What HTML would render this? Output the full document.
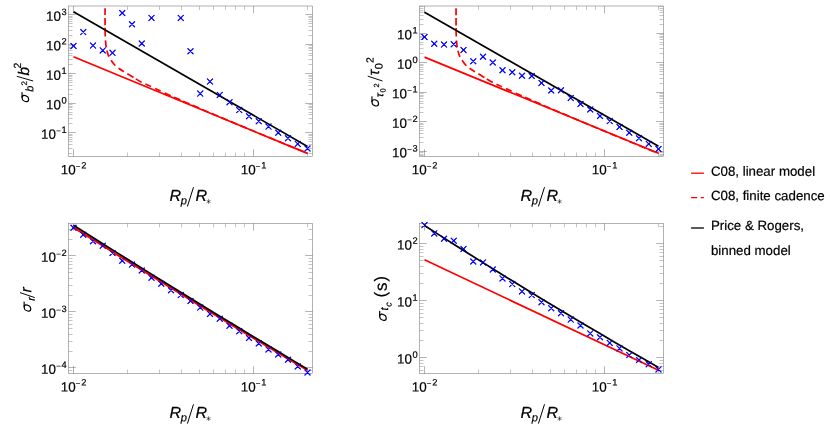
<!DOCTYPE html>
<html><head><meta charset="utf-8"><title>plot</title>
<style>
html,body{margin:0;padding:0;background:#fff;}
svg{display:block;will-change:transform;font-family:"Liberation Sans",sans-serif;}
text{fill:#000;stroke:#000;stroke-width:0.2px;}
</style></head><body>
<svg width="830" height="426" viewBox="0 0 830 426">
<rect width="830" height="426" fill="#fff"/>
<rect x="68.5" y="6" width="244" height="150.5" fill="none" stroke="#666" stroke-width="0.5"/>
<path d="M73.5 156.5v-7.3M73.5 6v7.3M253.5 156.5v-7.3M253.5 6v7.3" stroke="#686868" stroke-width="0.5" fill="none"/>
<path d="M127.5 156.5v-4M127.5 6v4M159.5 156.5v-4M159.5 6v4M181.5 156.5v-4M181.5 6v4M199.5 156.5v-4M199.5 6v4M213.5 156.5v-4M213.5 6v4M225.5 156.5v-4M225.5 6v4M235.5 156.5v-4M235.5 6v4M244.5 156.5v-4M244.5 6v4M307.5 156.5v-4M307.5 6v4" stroke="#8a8a8a" stroke-width="0.5" fill="none"/>
<path d="M68.5 132.5h7.3M312.5 132.5h-7.3M68.5 103.5h7.3M312.5 103.5h-7.3M68.5 73.5h7.3M312.5 73.5h-7.3M68.5 44.5h7.3M312.5 44.5h-7.3M68.5 14.5h7.3M312.5 14.5h-7.3" stroke="#686868" stroke-width="0.5" fill="none"/>
<path d="M68.5 153.5h4M312.5 153.5h-4M68.5 148.5h4M312.5 148.5h-4M68.5 144.5h4M312.5 144.5h-4M68.5 141.5h4M312.5 141.5h-4M68.5 139.5h4M312.5 139.5h-4M68.5 137.5h4M312.5 137.5h-4M68.5 135.5h4M312.5 135.5h-4M68.5 134.5h4M312.5 134.5h-4M68.5 123.5h4M312.5 123.5h-4M68.5 118.5h4M312.5 118.5h-4M68.5 114.5h4M312.5 114.5h-4M68.5 112.5h4M312.5 112.5h-4M68.5 109.5h4M312.5 109.5h-4M68.5 107.5h4M312.5 107.5h-4M68.5 106.5h4M312.5 106.5h-4M68.5 104.5h4M312.5 104.5h-4M68.5 94.5h4M312.5 94.5h-4M68.5 89.5h4M312.5 89.5h-4M68.5 85.5h4M312.5 85.5h-4M68.5 82.5h4M312.5 82.5h-4M68.5 80.5h4M312.5 80.5h-4M68.5 78.5h4M312.5 78.5h-4M68.5 76.5h4M312.5 76.5h-4M68.5 75.5h4M312.5 75.5h-4M68.5 64.5h4M312.5 64.5h-4M68.5 59.5h4M312.5 59.5h-4M68.5 55.5h4M312.5 55.5h-4M68.5 53.5h4M312.5 53.5h-4M68.5 50.5h4M312.5 50.5h-4M68.5 48.5h4M312.5 48.5h-4M68.5 47.5h4M312.5 47.5h-4M68.5 45.5h4M312.5 45.5h-4M68.5 35.5h4M312.5 35.5h-4M68.5 30.5h4M312.5 30.5h-4M68.5 26.5h4M312.5 26.5h-4M68.5 23.5h4M312.5 23.5h-4M68.5 21.5h4M312.5 21.5h-4M68.5 19.5h4M312.5 19.5h-4M68.5 17.5h4M312.5 17.5h-4M68.5 16.5h4M312.5 16.5h-4" stroke="#8a8a8a" stroke-width="0.5" fill="none"/>
<text x="66.6" y="20.75" transform="rotate(0.05 66.6 20.75)" text-anchor="end" font-size="13.4">10<tspan font-size="9.3" dy="-5.8" dx="0.4">3</tspan></text>
<text x="66.6" y="50.25" transform="rotate(0.05 66.6 50.25)" text-anchor="end" font-size="13.4">10<tspan font-size="9.3" dy="-5.8" dx="0.4">2</tspan></text>
<text x="66.6" y="79.75" transform="rotate(0.05 66.6 79.75)" text-anchor="end" font-size="13.4">10<tspan font-size="9.3" dy="-5.8" dx="0.4">1</tspan></text>
<text x="66.6" y="109.25" transform="rotate(0.05 66.6 109.25)" text-anchor="end" font-size="13.4">10<tspan font-size="9.3" dy="-5.8" dx="0.4">0</tspan></text>
<text x="66.6" y="138.75" transform="rotate(0.05 66.6 138.75)" text-anchor="end" font-size="13.4">10<tspan font-size="8.6" dy="-4.95" stroke="none" fill="#222">−</tspan><tspan font-size="9.3" dy="-0.85" dx="0.5">1</tspan></text>
<text x="73.5" y="174.2" transform="rotate(0.05 73.5 174.2)" text-anchor="middle" font-size="13.4">10<tspan font-size="8.6" dy="-4.95" stroke="none" fill="#222">−</tspan><tspan font-size="9.3" dy="-0.85" dx="0.5">2</tspan></text>
<text x="253.5" y="174.2" transform="rotate(0.05 253.5 174.2)" text-anchor="middle" font-size="13.4">10<tspan font-size="8.6" dy="-4.95" stroke="none" fill="#222">−</tspan><tspan font-size="9.3" dy="-0.85" dx="0.5">1</tspan></text>
<g font-style="italic"><text x="169.4" y="200.9" transform="rotate(0.05 169.4 200.9)" font-size="16.1">R</text><text x="180.8" y="204.2" transform="rotate(0.05 180.8 204.2)" font-size="11.2">p</text><path d="M187.4 206.5L193.5 187.2" stroke="#000" stroke-width="1.0" fill="none"/><text x="195.5" y="200.9" transform="rotate(0.05 195.5 200.9)" font-size="16.1">R</text><path transform="translate(208.55 201.5)" d="M0 -2.3V2.3M-2 -1.15L2 1.15M-2 1.15L2 -1.15" stroke="#222" stroke-width="0.62" fill="none"/></g>
<rect x="419.5" y="6" width="244" height="150.5" fill="none" stroke="#666" stroke-width="0.5"/>
<path d="M424.5 156.5v-7.3M424.5 6v7.3M604.5 156.5v-7.3M604.5 6v7.3" stroke="#686868" stroke-width="0.5" fill="none"/>
<path d="M478.5 156.5v-4M478.5 6v4M510.5 156.5v-4M510.5 6v4M532.5 156.5v-4M532.5 6v4M550.5 156.5v-4M550.5 6v4M564.5 156.5v-4M564.5 6v4M576.5 156.5v-4M576.5 6v4M586.5 156.5v-4M586.5 6v4M595.5 156.5v-4M595.5 6v4M658.5 156.5v-4M658.5 6v4" stroke="#8a8a8a" stroke-width="0.5" fill="none"/>
<path d="M419.5 151.5h7.3M663.5 151.5h-7.3M419.5 121.5h7.3M663.5 121.5h-7.3M419.5 92.5h7.3M663.5 92.5h-7.3M419.5 62.5h7.3M663.5 62.5h-7.3M419.5 33.5h7.3M663.5 33.5h-7.3" stroke="#686868" stroke-width="0.5" fill="none"/>
<path d="M419.5 155.5h4M663.5 155.5h-4M419.5 154.5h4M663.5 154.5h-4M419.5 152.5h4M663.5 152.5h-4M419.5 142.5h4M663.5 142.5h-4M419.5 137.5h4M663.5 137.5h-4M419.5 133.5h4M663.5 133.5h-4M419.5 130.5h4M663.5 130.5h-4M419.5 128.5h4M663.5 128.5h-4M419.5 126.5h4M663.5 126.5h-4M419.5 124.5h4M663.5 124.5h-4M419.5 123.5h4M663.5 123.5h-4M419.5 112.5h4M663.5 112.5h-4M419.5 107.5h4M663.5 107.5h-4M419.5 103.5h4M663.5 103.5h-4M419.5 101.5h4M663.5 101.5h-4M419.5 98.5h4M663.5 98.5h-4M419.5 96.5h4M663.5 96.5h-4M419.5 95.5h4M663.5 95.5h-4M419.5 93.5h4M663.5 93.5h-4M419.5 83.5h4M663.5 83.5h-4M419.5 78.5h4M663.5 78.5h-4M419.5 74.5h4M663.5 74.5h-4M419.5 71.5h4M663.5 71.5h-4M419.5 69.5h4M663.5 69.5h-4M419.5 67.5h4M663.5 67.5h-4M419.5 65.5h4M663.5 65.5h-4M419.5 64.5h4M663.5 64.5h-4M419.5 53.5h4M663.5 53.5h-4M419.5 48.5h4M663.5 48.5h-4M419.5 44.5h4M663.5 44.5h-4M419.5 42.5h4M663.5 42.5h-4M419.5 39.5h4M663.5 39.5h-4M419.5 37.5h4M663.5 37.5h-4M419.5 36.5h4M663.5 36.5h-4M419.5 34.5h4M663.5 34.5h-4M419.5 24.5h4M663.5 24.5h-4M419.5 19.5h4M663.5 19.5h-4M419.5 15.5h4M663.5 15.5h-4M419.5 12.5h4M663.5 12.5h-4M419.5 10.5h4M663.5 10.5h-4M419.5 8.5h4M663.5 8.5h-4M419.5 6.5h4M663.5 6.5h-4" stroke="#8a8a8a" stroke-width="0.5" fill="none"/>
<text x="417.6" y="39.25" transform="rotate(0.05 417.6 39.25)" text-anchor="end" font-size="13.4">10<tspan font-size="9.3" dy="-5.8" dx="0.4">1</tspan></text>
<text x="417.6" y="68.75" transform="rotate(0.05 417.6 68.75)" text-anchor="end" font-size="13.4">10<tspan font-size="9.3" dy="-5.8" dx="0.4">0</tspan></text>
<text x="417.6" y="98.25" transform="rotate(0.05 417.6 98.25)" text-anchor="end" font-size="13.4">10<tspan font-size="8.6" dy="-4.95" stroke="none" fill="#222">−</tspan><tspan font-size="9.3" dy="-0.85" dx="0.5">1</tspan></text>
<text x="417.6" y="127.75" transform="rotate(0.05 417.6 127.75)" text-anchor="end" font-size="13.4">10<tspan font-size="8.6" dy="-4.95" stroke="none" fill="#222">−</tspan><tspan font-size="9.3" dy="-0.85" dx="0.5">2</tspan></text>
<text x="417.6" y="157.25" transform="rotate(0.05 417.6 157.25)" text-anchor="end" font-size="13.4">10<tspan font-size="8.6" dy="-4.95" stroke="none" fill="#222">−</tspan><tspan font-size="9.3" dy="-0.85" dx="0.5">3</tspan></text>
<text x="424.5" y="174.2" transform="rotate(0.05 424.5 174.2)" text-anchor="middle" font-size="13.4">10<tspan font-size="8.6" dy="-4.95" stroke="none" fill="#222">−</tspan><tspan font-size="9.3" dy="-0.85" dx="0.5">2</tspan></text>
<text x="604.5" y="174.2" transform="rotate(0.05 604.5 174.2)" text-anchor="middle" font-size="13.4">10<tspan font-size="8.6" dy="-4.95" stroke="none" fill="#222">−</tspan><tspan font-size="9.3" dy="-0.85" dx="0.5">1</tspan></text>
<g font-style="italic"><text x="520.4" y="200.9" transform="rotate(0.05 520.4 200.9)" font-size="16.1">R</text><text x="531.8" y="204.2" transform="rotate(0.05 531.8 204.2)" font-size="11.2">p</text><path d="M538.4 206.5L544.5 187.2" stroke="#000" stroke-width="1.0" fill="none"/><text x="546.5" y="200.9" transform="rotate(0.05 546.5 200.9)" font-size="16.1">R</text><path transform="translate(559.55 201.5)" d="M0 -2.3V2.3M-2 -1.15L2 1.15M-2 1.15L2 -1.15" stroke="#222" stroke-width="0.62" fill="none"/></g>
<rect x="68.5" y="223.35" width="244" height="150.15" fill="none" stroke="#666" stroke-width="0.5"/>
<path d="M73.5 373.5v-7.3M73.5 223.35v7.3M253.5 373.5v-7.3M253.5 223.35v7.3" stroke="#686868" stroke-width="0.5" fill="none"/>
<path d="M127.5 373.5v-4M127.5 223.35v4M159.5 373.5v-4M159.5 223.35v4M181.5 373.5v-4M181.5 223.35v4M199.5 373.5v-4M199.5 223.35v4M213.5 373.5v-4M213.5 223.35v4M225.5 373.5v-4M225.5 223.35v4M235.5 373.5v-4M235.5 223.35v4M244.5 373.5v-4M244.5 223.35v4M307.5 373.5v-4M307.5 223.35v4" stroke="#8a8a8a" stroke-width="0.5" fill="none"/>
<path d="M68.5 367.5h7.3M312.5 367.5h-7.3M68.5 311.5h7.3M312.5 311.5h-7.3M68.5 255.5h7.3M312.5 255.5h-7.3" stroke="#686868" stroke-width="0.5" fill="none"/>
<path d="M68.5 370.5h4M312.5 370.5h-4M68.5 351.5h4M312.5 351.5h-4M68.5 341.5h4M312.5 341.5h-4M68.5 334.5h4M312.5 334.5h-4M68.5 328.5h4M312.5 328.5h-4M68.5 324.5h4M312.5 324.5h-4M68.5 320.5h4M312.5 320.5h-4M68.5 317.5h4M312.5 317.5h-4M68.5 314.5h4M312.5 314.5h-4M68.5 295.5h4M312.5 295.5h-4M68.5 285.5h4M312.5 285.5h-4M68.5 278.5h4M312.5 278.5h-4M68.5 272.5h4M312.5 272.5h-4M68.5 268.5h4M312.5 268.5h-4M68.5 264.5h4M312.5 264.5h-4M68.5 261.5h4M312.5 261.5h-4M68.5 258.5h4M312.5 258.5h-4M68.5 239.5h4M312.5 239.5h-4M68.5 229.5h4M312.5 229.5h-4" stroke="#8a8a8a" stroke-width="0.5" fill="none"/>
<text x="66.6" y="261.9" transform="rotate(0.05 66.6 261.9)" text-anchor="end" font-size="13.4">10<tspan font-size="8.6" dy="-4.95" stroke="none" fill="#222">−</tspan><tspan font-size="9.3" dy="-0.85" dx="0.5">2</tspan></text>
<text x="66.6" y="317.9" transform="rotate(0.05 66.6 317.9)" text-anchor="end" font-size="13.4">10<tspan font-size="8.6" dy="-4.95" stroke="none" fill="#222">−</tspan><tspan font-size="9.3" dy="-0.85" dx="0.5">3</tspan></text>
<text x="66.6" y="373.9" transform="rotate(0.05 66.6 373.9)" text-anchor="end" font-size="13.4">10<tspan font-size="8.6" dy="-4.95" stroke="none" fill="#222">−</tspan><tspan font-size="9.3" dy="-0.85" dx="0.5">4</tspan></text>
<text x="73.5" y="391.4" transform="rotate(0.05 73.5 391.4)" text-anchor="middle" font-size="13.4">10<tspan font-size="8.6" dy="-4.95" stroke="none" fill="#222">−</tspan><tspan font-size="9.3" dy="-0.85" dx="0.5">2</tspan></text>
<text x="253.5" y="391.4" transform="rotate(0.05 253.5 391.4)" text-anchor="middle" font-size="13.4">10<tspan font-size="8.6" dy="-4.95" stroke="none" fill="#222">−</tspan><tspan font-size="9.3" dy="-0.85" dx="0.5">1</tspan></text>
<g font-style="italic"><text x="169.4" y="418" transform="rotate(0.05 169.4 418)" font-size="16.1">R</text><text x="180.8" y="421.3" transform="rotate(0.05 180.8 421.3)" font-size="11.2">p</text><path d="M187.4 423.6L193.5 404.3" stroke="#000" stroke-width="1.0" fill="none"/><text x="195.5" y="418" transform="rotate(0.05 195.5 418)" font-size="16.1">R</text><path transform="translate(208.55 418.6)" d="M0 -2.3V2.3M-2 -1.15L2 1.15M-2 1.15L2 -1.15" stroke="#222" stroke-width="0.62" fill="none"/></g>
<rect x="419.5" y="223.35" width="244" height="150.15" fill="none" stroke="#666" stroke-width="0.5"/>
<path d="M424.5 373.5v-7.3M424.5 223.35v7.3M604.5 373.5v-7.3M604.5 223.35v7.3" stroke="#686868" stroke-width="0.5" fill="none"/>
<path d="M478.5 373.5v-4M478.5 223.35v4M510.5 373.5v-4M510.5 223.35v4M532.5 373.5v-4M532.5 223.35v4M550.5 373.5v-4M550.5 223.35v4M564.5 373.5v-4M564.5 223.35v4M576.5 373.5v-4M576.5 223.35v4M586.5 373.5v-4M586.5 223.35v4M595.5 373.5v-4M595.5 223.35v4M658.5 373.5v-4M658.5 223.35v4" stroke="#8a8a8a" stroke-width="0.5" fill="none"/>
<path d="M419.5 357.5h7.3M663.5 357.5h-7.3M419.5 300.5h7.3M663.5 300.5h-7.3M419.5 243.5h7.3M663.5 243.5h-7.3" stroke="#686868" stroke-width="0.5" fill="none"/>
<path d="M419.5 370.5h4M663.5 370.5h-4M419.5 366.5h4M663.5 366.5h-4M419.5 363.5h4M663.5 363.5h-4M419.5 360.5h4M663.5 360.5h-4M419.5 340.5h4M663.5 340.5h-4M419.5 330.5h4M663.5 330.5h-4M419.5 323.5h4M663.5 323.5h-4M419.5 317.5h4M663.5 317.5h-4M419.5 313.5h4M663.5 313.5h-4M419.5 309.5h4M663.5 309.5h-4M419.5 306.5h4M663.5 306.5h-4M419.5 303.5h4M663.5 303.5h-4M419.5 283.5h4M663.5 283.5h-4M419.5 273.5h4M663.5 273.5h-4M419.5 266.5h4M663.5 266.5h-4M419.5 260.5h4M663.5 260.5h-4M419.5 256.5h4M663.5 256.5h-4M419.5 252.5h4M663.5 252.5h-4M419.5 249.5h4M663.5 249.5h-4M419.5 246.5h4M663.5 246.5h-4M419.5 226.5h4M663.5 226.5h-4" stroke="#8a8a8a" stroke-width="0.5" fill="none"/>
<text x="417.6" y="249.5" transform="rotate(0.05 417.6 249.5)" text-anchor="end" font-size="13.4">10<tspan font-size="9.3" dy="-5.8" dx="0.4">2</tspan></text>
<text x="417.6" y="306.5" transform="rotate(0.05 417.6 306.5)" text-anchor="end" font-size="13.4">10<tspan font-size="9.3" dy="-5.8" dx="0.4">1</tspan></text>
<text x="417.6" y="363.5" transform="rotate(0.05 417.6 363.5)" text-anchor="end" font-size="13.4">10<tspan font-size="9.3" dy="-5.8" dx="0.4">0</tspan></text>
<text x="424.5" y="391.4" transform="rotate(0.05 424.5 391.4)" text-anchor="middle" font-size="13.4">10<tspan font-size="8.6" dy="-4.95" stroke="none" fill="#222">−</tspan><tspan font-size="9.3" dy="-0.85" dx="0.5">2</tspan></text>
<text x="604.5" y="391.4" transform="rotate(0.05 604.5 391.4)" text-anchor="middle" font-size="13.4">10<tspan font-size="8.6" dy="-4.95" stroke="none" fill="#222">−</tspan><tspan font-size="9.3" dy="-0.85" dx="0.5">1</tspan></text>
<g font-style="italic"><text x="520.4" y="418" transform="rotate(0.05 520.4 418)" font-size="16.1">R</text><text x="531.8" y="421.3" transform="rotate(0.05 531.8 421.3)" font-size="11.2">p</text><path d="M538.4 423.6L544.5 404.3" stroke="#000" stroke-width="1.0" fill="none"/><text x="546.5" y="418" transform="rotate(0.05 546.5 418)" font-size="16.1">R</text><path transform="translate(559.55 418.6)" d="M0 -2.3V2.3M-2 -1.15L2 1.15M-2 1.15L2 -1.15" stroke="#222" stroke-width="0.62" fill="none"/></g>
<path d="M70.6 43.1l5.8 5.8M70.6 48.9l5.8 -5.8M80.35 29.2l5.8 5.8M80.35 35l5.8 -5.8M90.1 42.7l5.8 5.8M90.1 48.5l5.8 -5.8M99.85 47.5l5.8 5.8M99.85 53.3l5.8 -5.8M109.6 49.95l5.8 5.8M109.6 55.75l5.8 -5.8M119.35 10.1l5.8 5.8M119.35 15.9l5.8 -5.8M129.1 21.35l5.8 5.8M129.1 27.15l5.8 -5.8M138.85 40.6l5.8 5.8M138.85 46.4l5.8 -5.8M148.6 15l5.8 5.8M148.6 20.8l5.8 -5.8M177.85 15l5.8 5.8M177.85 20.8l5.8 -5.8M187.6 48.4l5.8 5.8M187.6 54.2l5.8 -5.8M197.35 90.7l5.8 5.8M197.35 96.5l5.8 -5.8M207.1 78.7l5.8 5.8M207.1 84.5l5.8 -5.8M216.85 92l5.8 5.8M216.85 97.8l5.8 -5.8M226.6 99.4l5.8 5.8M226.6 105.2l5.8 -5.8M236.35 107.2l5.8 5.8M236.35 113l5.8 -5.8M246.1 113.3l5.8 5.8M246.1 119.1l5.8 -5.8M255.85 118.4l5.8 5.8M255.85 124.2l5.8 -5.8M265.6 123.7l5.8 5.8M265.6 129.5l5.8 -5.8M275.35 129.8l5.8 5.8M275.35 135.6l5.8 -5.8M285.1 135.3l5.8 5.8M285.1 141.1l5.8 -5.8M294.85 141l5.8 5.8M294.85 146.8l5.8 -5.8M304.6 145.6l5.8 5.8M304.6 151.4l5.8 -5.8M421.6 34.1l5.8 5.8M421.6 39.9l5.8 -5.8M431.35 40.8l5.8 5.8M431.35 46.6l5.8 -5.8M441.1 41.7l5.8 5.8M441.1 47.5l5.8 -5.8M450.85 41.4l5.8 5.8M450.85 47.2l5.8 -5.8M460.6 47.1l5.8 5.8M460.6 52.9l5.8 -5.8M470.35 58.3l5.8 5.8M470.35 64.1l5.8 -5.8M480.1 53.9l5.8 5.8M480.1 59.7l5.8 -5.8M489.85 59.6l5.8 5.8M489.85 65.4l5.8 -5.8M499.6 67.4l5.8 5.8M499.6 73.2l5.8 -5.8M509.35 69.3l5.8 5.8M509.35 75.1l5.8 -5.8M519.1 72.9l5.8 5.8M519.1 78.7l5.8 -5.8M528.85 73.1l5.8 5.8M528.85 78.9l5.8 -5.8M538.6 80.1l5.8 5.8M538.6 85.9l5.8 -5.8M548.35 87.6l5.8 5.8M548.35 93.4l5.8 -5.8M558.1 87.4l5.8 5.8M558.1 93.2l5.8 -5.8M567.85 95l5.8 5.8M567.85 100.8l5.8 -5.8M577.6 101.1l5.8 5.8M577.6 106.9l5.8 -5.8M587.35 106.6l5.8 5.8M587.35 112.4l5.8 -5.8M597.1 113.1l5.8 5.8M597.1 118.9l5.8 -5.8M606.85 118.2l5.8 5.8M606.85 124l5.8 -5.8M616.6 124.1l5.8 5.8M616.6 129.9l5.8 -5.8M626.35 129.8l5.8 5.8M626.35 135.6l5.8 -5.8M636.1 135.3l5.8 5.8M636.1 141.1l5.8 -5.8M645.85 141l5.8 5.8M645.85 146.8l5.8 -5.8M655.6 146.1l5.8 5.8M655.6 151.9l5.8 -5.8M70.6 224.8l5.8 5.8M70.6 230.6l5.8 -5.8M80.35 231.9l5.8 5.8M80.35 237.7l5.8 -5.8M90.1 238.4l5.8 5.8M90.1 244.2l5.8 -5.8M99.85 242.8l5.8 5.8M99.85 248.6l5.8 -5.8M109.6 250.1l5.8 5.8M109.6 255.9l5.8 -5.8M119.35 257.8l5.8 5.8M119.35 263.6l5.8 -5.8M129.1 261.7l5.8 5.8M129.1 267.5l5.8 -5.8M138.85 267.6l5.8 5.8M138.85 273.4l5.8 -5.8M148.6 274.9l5.8 5.8M148.6 280.7l5.8 -5.8M158.35 280.8l5.8 5.8M158.35 286.6l5.8 -5.8M168.1 287.3l5.8 5.8M168.1 293.1l5.8 -5.8M177.85 292.2l5.8 5.8M177.85 298l5.8 -5.8M187.6 298.1l5.8 5.8M187.6 303.9l5.8 -5.8M197.35 304.7l5.8 5.8M197.35 310.5l5.8 -5.8M207.1 311l5.8 5.8M207.1 316.8l5.8 -5.8M216.85 315.9l5.8 5.8M216.85 321.7l5.8 -5.8M226.6 322.8l5.8 5.8M226.6 328.6l5.8 -5.8M236.35 328.4l5.8 5.8M236.35 334.2l5.8 -5.8M246.1 335.1l5.8 5.8M246.1 340.9l5.8 -5.8M255.85 340.6l5.8 5.8M255.85 346.4l5.8 -5.8M265.6 346.5l5.8 5.8M265.6 352.3l5.8 -5.8M275.35 351.6l5.8 5.8M275.35 357.4l5.8 -5.8M285.1 356.8l5.8 5.8M285.1 362.6l5.8 -5.8M294.85 363.5l5.8 5.8M294.85 369.3l5.8 -5.8M304.6 369.6l5.8 5.8M304.6 375.4l5.8 -5.8M421.6 222.2l5.8 5.8M421.6 228l5.8 -5.8M431.35 230.5l5.8 5.8M431.35 236.3l5.8 -5.8M441.1 235.8l5.8 5.8M441.1 241.6l5.8 -5.8M450.85 237.8l5.8 5.8M450.85 243.6l5.8 -5.8M460.6 246.1l5.8 5.8M460.6 251.9l5.8 -5.8M470.35 258.6l5.8 5.8M470.35 264.4l5.8 -5.8M480.1 259.5l5.8 5.8M480.1 265.3l5.8 -5.8M489.85 266.6l5.8 5.8M489.85 272.4l5.8 -5.8M499.6 275.5l5.8 5.8M499.6 281.3l5.8 -5.8M509.35 281.2l5.8 5.8M509.35 287l5.8 -5.8M519.1 288.5l5.8 5.8M519.1 294.3l5.8 -5.8M528.85 292.2l5.8 5.8M528.85 298l5.8 -5.8M538.6 299.3l5.8 5.8M538.6 305.1l5.8 -5.8M548.35 305.3l5.8 5.8M548.35 311.1l5.8 -5.8M558.1 310.4l5.8 5.8M558.1 316.2l5.8 -5.8M567.85 316.7l5.8 5.8M567.85 322.5l5.8 -5.8M577.6 322.6l5.8 5.8M577.6 328.4l5.8 -5.8M587.35 330.5l5.8 5.8M587.35 336.3l5.8 -5.8M597.1 334.3l5.8 5.8M597.1 340.1l5.8 -5.8M606.85 340l5.8 5.8M606.85 345.8l5.8 -5.8M616.6 345.5l5.8 5.8M616.6 351.3l5.8 -5.8M626.35 352.2l5.8 5.8M626.35 358l5.8 -5.8M636.1 357.1l5.8 5.8M636.1 362.9l5.8 -5.8M645.85 361.4l5.8 5.8M645.85 367.2l5.8 -5.8M655.6 366.5l5.8 5.8M655.6 372.3l5.8 -5.8" stroke="#0000ff" stroke-width="1.05" fill="none"/>
<path d="M73.5 56.8L307.5 153.4" stroke="#ff0000" stroke-width="1.7" fill="none"/>
<path d="M105.05 8.2C105.05 10.17 105.05 16.7 105.05 20C105.05 23.3 105.05 25.33 105.08 28C105.11 30.67 105.16 33.73 105.25 36C105.34 38.27 105.46 39.88 105.6 41.6C105.74 43.32 105.87 44.73 106.1 46.3C106.33 47.87 106.53 49.27 107 51C107.47 52.73 108.23 55.17 108.9 56.7C109.57 58.23 109.95 58.73 111 60.2C112.05 61.67 113.95 64.18 115.2 65.5C116.45 66.82 117.1 67.11 118.5 68.1C119.9 69.09 122.15 70.53 123.6 71.45C125.05 72.38 125.58 72.68 127.2 73.65C128.82 74.62 130.92 75.88 133.3 77.3C135.68 78.72 138.55 80.65 141.5 82.2C144.45 83.75 147.82 85.12 151 86.6C154.18 88.08 157.32 89.58 160.6 91.1C163.88 92.62 167.43 94.23 170.7 95.7C173.97 97.17 175.32 97.77 180.2 99.9C185.08 102.03 191.7 104.94 200 108.5C208.3 112.06 220 117.04 230 121.25C240 125.46 247.08 128.39 260 133.75C272.92 139.11 299.58 150.12 307.5 153.4" stroke="#ff0000" stroke-width="1.7" fill="none" stroke-dasharray="6.79 2.71 7.66 2.45 8.54 3.99 7.06 3.34 6.41 4.09 6.9 4.21 6.22 4.11 7.18 2.92 6.68 4.13 6.1 4.47 6.13 4.44 6.66 3.67 6.72 3.5 6.8 3.5 6.8 3.5 6.8 3.5 6.8 3.5 6.8 3.5 6.8 3.5 6.8 3.5 6.8 3.5 6.8 3.5 6.8 3.5 6.8 3.5 6.8 3.5 6.8 3.5 6.8 3.5"/>
<path d="M73.5 11.8L307.5 146.4" stroke="#000" stroke-width="1.7" fill="none"/>
<path d="M424.5 57.1L658.5 153.3" stroke="#ff0000" stroke-width="1.7" fill="none"/>
<path d="M456.05 8.3C456.05 10.27 456.05 16.8 456.05 20.1C456.06 23.4 456.05 25.43 456.08 28.1C456.11 30.77 456.16 33.83 456.25 36.1C456.34 38.37 456.46 39.98 456.6 41.7C456.74 43.42 456.87 44.83 457.1 46.4C457.33 47.97 457.53 49.37 458 51.1C458.47 52.83 459.23 55.27 459.9 56.8C460.57 58.33 460.95 58.83 462 60.3C463.05 61.77 464.95 64.28 466.2 65.6C467.45 66.92 468.1 67.21 469.5 68.2C470.9 69.19 473.15 70.62 474.6 71.55C476.05 72.47 476.58 72.78 478.2 73.75C479.82 74.72 481.92 75.97 484.3 77.4C486.68 78.82 489.55 80.75 492.5 82.3C495.45 83.85 498.82 85.22 502 86.7C505.18 88.18 508.32 89.68 511.6 91.2C514.88 92.72 518.43 94.33 521.7 95.8C524.97 97.27 526.32 97.87 531.2 100C536.08 102.13 542.7 105.04 551 108.6C559.3 112.16 571 117.14 581 121.35C591 125.56 598.08 128.49 611 133.85C623.92 139.21 650.58 150.22 658.5 153.5" stroke="#ff0000" stroke-width="1.7" fill="none" stroke-dasharray="6.79 2.71 7.66 2.45 8.54 3.99 7.06 3.34 6.41 4.09 6.9 4.21 6.22 4.11 7.18 2.92 6.68 4.13 6.1 4.47 6.13 4.44 6.66 3.67 6.72 3.5 6.8 3.5 6.8 3.5 6.8 3.5 6.8 3.5 6.8 3.5 6.8 3.5 6.8 3.5 6.8 3.5 6.8 3.5 6.8 3.5 6.8 3.5 6.8 3.5 6.8 3.5 6.8 3.5"/>
<path d="M424.5 12.2L658.5 146.3" stroke="#000" stroke-width="1.7" fill="none"/>
<path d="M73.5 227.38L88.12 236.57L102.75 245.72L117.38 254.84L132 263.92L146.62 272.97L161.25 281.98L175.88 290.96L190.5 299.9L205.12 308.81L219.75 317.69L234.38 326.53L249 335.33L263.62 344.1L278.25 352.84L292.88 361.54L307.5 370.21" stroke="#ff0000" stroke-width="2.0" fill="none"/>
<path d="M73.5 225.31L88.12 234.54L102.75 243.74L117.38 252.9L132 262.04L146.62 271.14L161.25 280.21L175.88 289.24L190.5 298.25L205.12 307.22L219.75 316.16L234.38 325.07L249 333.94L263.62 342.78L278.25 351.59L292.88 360.37L307.5 369.12" stroke="#000" stroke-width="1.7" fill="none"/>
<path d="M424.5 259.8L658.5 370.2" stroke="#ff0000" stroke-width="1.7" fill="none"/>
<path d="M424.5 225.5L439.12 234.88L453.75 244.2L468.38 253.45L483 262.63L497.62 271.74L512.25 280.78L526.88 289.75L541.5 298.66L556.12 307.5L570.75 316.27L585.38 324.97L600 333.6L614.62 342.17L629.25 350.67L643.88 359.09L658.5 367.46" stroke="#000" stroke-width="1.7" fill="none"/>
<path d="M70.6 43.1l5.8 5.8M70.6 48.9l5.8 -5.8M80.35 29.2l5.8 5.8M80.35 35l5.8 -5.8M90.1 42.7l5.8 5.8M90.1 48.5l5.8 -5.8M99.85 47.5l5.8 5.8M99.85 53.3l5.8 -5.8M109.6 49.95l5.8 5.8M109.6 55.75l5.8 -5.8M119.35 10.1l5.8 5.8M119.35 15.9l5.8 -5.8M129.1 21.35l5.8 5.8M129.1 27.15l5.8 -5.8M138.85 40.6l5.8 5.8M138.85 46.4l5.8 -5.8M148.6 15l5.8 5.8M148.6 20.8l5.8 -5.8M177.85 15l5.8 5.8M177.85 20.8l5.8 -5.8M187.6 48.4l5.8 5.8M187.6 54.2l5.8 -5.8M197.35 90.7l5.8 5.8M197.35 96.5l5.8 -5.8M207.1 78.7l5.8 5.8M207.1 84.5l5.8 -5.8M216.85 92l5.8 5.8M216.85 97.8l5.8 -5.8M226.6 99.4l5.8 5.8M226.6 105.2l5.8 -5.8M236.35 107.2l5.8 5.8M236.35 113l5.8 -5.8M246.1 113.3l5.8 5.8M246.1 119.1l5.8 -5.8M255.85 118.4l5.8 5.8M255.85 124.2l5.8 -5.8M265.6 123.7l5.8 5.8M265.6 129.5l5.8 -5.8M275.35 129.8l5.8 5.8M275.35 135.6l5.8 -5.8M285.1 135.3l5.8 5.8M285.1 141.1l5.8 -5.8M294.85 141l5.8 5.8M294.85 146.8l5.8 -5.8M304.6 145.6l5.8 5.8M304.6 151.4l5.8 -5.8M421.6 34.1l5.8 5.8M421.6 39.9l5.8 -5.8M431.35 40.8l5.8 5.8M431.35 46.6l5.8 -5.8M441.1 41.7l5.8 5.8M441.1 47.5l5.8 -5.8M450.85 41.4l5.8 5.8M450.85 47.2l5.8 -5.8M460.6 47.1l5.8 5.8M460.6 52.9l5.8 -5.8M470.35 58.3l5.8 5.8M470.35 64.1l5.8 -5.8M480.1 53.9l5.8 5.8M480.1 59.7l5.8 -5.8M489.85 59.6l5.8 5.8M489.85 65.4l5.8 -5.8M499.6 67.4l5.8 5.8M499.6 73.2l5.8 -5.8M509.35 69.3l5.8 5.8M509.35 75.1l5.8 -5.8M519.1 72.9l5.8 5.8M519.1 78.7l5.8 -5.8M528.85 73.1l5.8 5.8M528.85 78.9l5.8 -5.8M538.6 80.1l5.8 5.8M538.6 85.9l5.8 -5.8M548.35 87.6l5.8 5.8M548.35 93.4l5.8 -5.8M558.1 87.4l5.8 5.8M558.1 93.2l5.8 -5.8M567.85 95l5.8 5.8M567.85 100.8l5.8 -5.8M577.6 101.1l5.8 5.8M577.6 106.9l5.8 -5.8M587.35 106.6l5.8 5.8M587.35 112.4l5.8 -5.8M597.1 113.1l5.8 5.8M597.1 118.9l5.8 -5.8M606.85 118.2l5.8 5.8M606.85 124l5.8 -5.8M616.6 124.1l5.8 5.8M616.6 129.9l5.8 -5.8M626.35 129.8l5.8 5.8M626.35 135.6l5.8 -5.8M636.1 135.3l5.8 5.8M636.1 141.1l5.8 -5.8M645.85 141l5.8 5.8M645.85 146.8l5.8 -5.8M655.6 146.1l5.8 5.8M655.6 151.9l5.8 -5.8M70.6 224.8l5.8 5.8M70.6 230.6l5.8 -5.8M80.35 231.9l5.8 5.8M80.35 237.7l5.8 -5.8M90.1 238.4l5.8 5.8M90.1 244.2l5.8 -5.8M99.85 242.8l5.8 5.8M99.85 248.6l5.8 -5.8M109.6 250.1l5.8 5.8M109.6 255.9l5.8 -5.8M119.35 257.8l5.8 5.8M119.35 263.6l5.8 -5.8M129.1 261.7l5.8 5.8M129.1 267.5l5.8 -5.8M138.85 267.6l5.8 5.8M138.85 273.4l5.8 -5.8M148.6 274.9l5.8 5.8M148.6 280.7l5.8 -5.8M158.35 280.8l5.8 5.8M158.35 286.6l5.8 -5.8M168.1 287.3l5.8 5.8M168.1 293.1l5.8 -5.8M177.85 292.2l5.8 5.8M177.85 298l5.8 -5.8M187.6 298.1l5.8 5.8M187.6 303.9l5.8 -5.8M197.35 304.7l5.8 5.8M197.35 310.5l5.8 -5.8M207.1 311l5.8 5.8M207.1 316.8l5.8 -5.8M216.85 315.9l5.8 5.8M216.85 321.7l5.8 -5.8M226.6 322.8l5.8 5.8M226.6 328.6l5.8 -5.8M236.35 328.4l5.8 5.8M236.35 334.2l5.8 -5.8M246.1 335.1l5.8 5.8M246.1 340.9l5.8 -5.8M255.85 340.6l5.8 5.8M255.85 346.4l5.8 -5.8M265.6 346.5l5.8 5.8M265.6 352.3l5.8 -5.8M275.35 351.6l5.8 5.8M275.35 357.4l5.8 -5.8M285.1 356.8l5.8 5.8M285.1 362.6l5.8 -5.8M294.85 363.5l5.8 5.8M294.85 369.3l5.8 -5.8M304.6 369.6l5.8 5.8M304.6 375.4l5.8 -5.8M421.6 222.2l5.8 5.8M421.6 228l5.8 -5.8M431.35 230.5l5.8 5.8M431.35 236.3l5.8 -5.8M441.1 235.8l5.8 5.8M441.1 241.6l5.8 -5.8M450.85 237.8l5.8 5.8M450.85 243.6l5.8 -5.8M460.6 246.1l5.8 5.8M460.6 251.9l5.8 -5.8M470.35 258.6l5.8 5.8M470.35 264.4l5.8 -5.8M480.1 259.5l5.8 5.8M480.1 265.3l5.8 -5.8M489.85 266.6l5.8 5.8M489.85 272.4l5.8 -5.8M499.6 275.5l5.8 5.8M499.6 281.3l5.8 -5.8M509.35 281.2l5.8 5.8M509.35 287l5.8 -5.8M519.1 288.5l5.8 5.8M519.1 294.3l5.8 -5.8M528.85 292.2l5.8 5.8M528.85 298l5.8 -5.8M538.6 299.3l5.8 5.8M538.6 305.1l5.8 -5.8M548.35 305.3l5.8 5.8M548.35 311.1l5.8 -5.8M558.1 310.4l5.8 5.8M558.1 316.2l5.8 -5.8M567.85 316.7l5.8 5.8M567.85 322.5l5.8 -5.8M577.6 322.6l5.8 5.8M577.6 328.4l5.8 -5.8M587.35 330.5l5.8 5.8M587.35 336.3l5.8 -5.8M597.1 334.3l5.8 5.8M597.1 340.1l5.8 -5.8M606.85 340l5.8 5.8M606.85 345.8l5.8 -5.8M616.6 345.5l5.8 5.8M616.6 351.3l5.8 -5.8M626.35 352.2l5.8 5.8M626.35 358l5.8 -5.8M636.1 357.1l5.8 5.8M636.1 362.9l5.8 -5.8M645.85 361.4l5.8 5.8M645.85 367.2l5.8 -5.8M655.6 366.5l5.8 5.8M655.6 372.3l5.8 -5.8" stroke="#0000ff" stroke-width="1.05" fill="none" opacity="0.7"/>
<g transform="translate(29.1 102.3) rotate(-90)" font-style="italic"><g transform="skewX(-14)" stroke="#000" stroke-width="1.15" fill="none"><ellipse cx="2.8" cy="-3.75" rx="2.95" ry="3.3"/><path d="M2.8 -7.05H8.45"/></g><text x="10.6" y="4.1" transform="rotate(0.05 10.6 4.1)" font-size="10.9">b</text><text x="16.9" y="-2.1" transform="rotate(0.05 16.9 -2.1)" font-size="8" font-style="normal">2</text><path d="M21.3 4.1L26.0 -12.3" stroke="#000" stroke-width="0.95" fill="none"/><text x="26.7" y="0" transform="rotate(0.05 26.7 0)" font-size="15.4">b</text><text x="33.9" y="-8.2" transform="rotate(0.05 33.9 -8.2)" font-size="10.4" font-style="normal">2</text></g>
<g transform="translate(379 106.6) rotate(-90)" font-style="italic"><g transform="skewX(-14)" stroke="#000" stroke-width="1.15" fill="none"><ellipse cx="2.8" cy="-3.75" rx="2.95" ry="3.3"/><path d="M2.8 -7.05H8.45"/></g><text x="9.3" y="4.2" transform="rotate(0.05 9.3 4.2)" font-size="10.9">τ</text><text x="14.1" y="6.6" transform="rotate(0.05 14.1 6.6)" font-size="7.4" font-style="normal">0</text><text x="19.1" y="0" transform="rotate(0.05 19.1 0)" font-size="7.4" font-style="normal">2</text><path d="M25.6 3.5L30.5 -11.3" stroke="#000" stroke-width="0.95" fill="none"/><text x="31.0" y="0" transform="rotate(0.05 31.0 0)" font-size="15.4">τ</text><text x="37.4" y="3.5" transform="rotate(0.05 37.4 3.5)" font-size="10.9" font-style="normal">0</text><text x="43.6" y="-5.6" transform="rotate(0.05 43.6 -5.6)" font-size="10.4" font-style="normal">2</text></g>
<g transform="translate(31.2 311.8) rotate(-90)" font-style="italic"><g transform="skewX(-14)" stroke="#000" stroke-width="1.15" fill="none"><ellipse cx="2.8" cy="-3.75" rx="2.95" ry="3.3"/><path d="M2.8 -7.05H8.45"/></g><text x="11" y="3.6" transform="rotate(0.05 11 3.6)" font-size="10.9">r</text><path d="M14.2 3.6L19.2 -11.2" stroke="#000" stroke-width="0.95" fill="none"/><text x="19.4" y="0" transform="rotate(0.05 19.4 0)" font-size="15.4">r</text></g>
<g transform="translate(386.7 321) rotate(-90)" font-style="italic"><g transform="skewX(-14)" stroke="#000" stroke-width="1.15" fill="none"><ellipse cx="2.8" cy="-3.75" rx="2.95" ry="3.3"/><path d="M2.8 -7.05H8.45"/></g><text x="10.5" y="1.3" transform="rotate(0.05 10.5 1.3)" font-size="10.9">t</text><text x="14.3" y="4.7" transform="rotate(0.05 14.3 4.7)" font-size="9">c</text><text x="23.5" y="-0.6" transform="rotate(0.05 23.5 -0.6)" font-size="16.6" font-style="normal">(</text><text x="29.9" y="0" transform="rotate(0.05 29.9 0)" font-size="17" font-style="normal">s</text><text x="39.5" y="-0.6" transform="rotate(0.05 39.5 -0.6)" font-size="16.6" font-style="normal">)</text></g>
<path d="M691.1 173.2H703.9" stroke="#ff0000" stroke-width="1.3"/>
<path d="M691.1 197.7H703.9" stroke="#ff0000" stroke-width="1.3" stroke-dasharray="6.1 3.5"/>
<path d="M691.1 228H703.9" stroke="#000" stroke-width="1.3"/>
<text x="710.9" y="175.8" transform="rotate(0.05 710.9 175.8)" font-size="13.3">C08, linear model</text>
<text x="710.9" y="200.1" transform="rotate(0.05 710.9 200.1)" font-size="13.3">C08, finite cadence</text>
<text x="710.9" y="230.0" transform="rotate(0.05 710.9 230.0)" font-size="13.3">Price &amp; Rogers,</text>
<text x="710.9" y="254.9" transform="rotate(0.05 710.9 254.9)" font-size="13.3">binned model</text>
</svg>
</body></html>
